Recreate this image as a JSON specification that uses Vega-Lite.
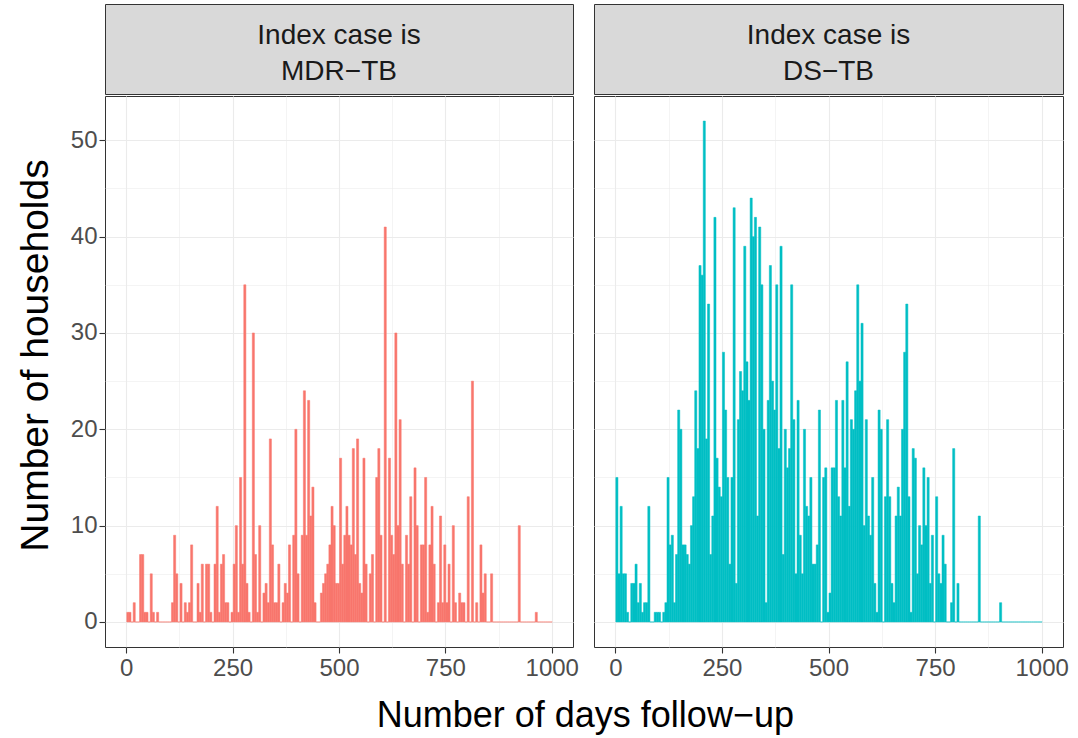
{
"$schema": "https://vega.github.io/schema/vega-lite/v6.json",
"background": "white",
"padding": {"left": 15, "top": 3, "right": 15, "bottom": 5},
"config": {"font": "Liberation Sans", "view": {"stroke": "#333333", "strokeWidth": 1}},
"title": {"text": "Number of days follow−up", "orient": "bottom", "anchor": "middle", "fontSize": 36, "fontWeight": "normal", "color": "#000000", "font": "Liberation Sans", "dx": 43, "offset": 18},
"datasets": {
"strips": [{"p": "MDR", "label": "Index case is\nMDR−TB"}, {"p": "DS", "label": "Index case is\nDS−TB"}],
"bins": [
{"p":"MDR","d":0,"n":1},{"p":"MDR","d":5,"n":1},{"p":"MDR","d":10,"n":0},{"p":"MDR","d":15,"n":2},{"p":"MDR","d":20,"n":0},{"p":"MDR","d":25,"n":0},{"p":"MDR","d":30,"n":7},{"p":"MDR","d":35,"n":7},{"p":"MDR","d":40,"n":1},{"p":"MDR","d":45,"n":1},
{"p":"MDR","d":50,"n":0},{"p":"MDR","d":55,"n":5},{"p":"MDR","d":60,"n":1},{"p":"MDR","d":65,"n":0},{"p":"MDR","d":70,"n":1},{"p":"MDR","d":75,"n":0},{"p":"MDR","d":80,"n":0},{"p":"MDR","d":85,"n":0},{"p":"MDR","d":90,"n":0},{"p":"MDR","d":95,"n":0},
{"p":"MDR","d":100,"n":0},{"p":"MDR","d":105,"n":2},{"p":"MDR","d":110,"n":9},{"p":"MDR","d":115,"n":5},{"p":"MDR","d":120,"n":0},{"p":"MDR","d":125,"n":4},{"p":"MDR","d":130,"n":0},{"p":"MDR","d":135,"n":2},{"p":"MDR","d":140,"n":1},{"p":"MDR","d":145,"n":2},
{"p":"MDR","d":150,"n":8},{"p":"MDR","d":155,"n":0},{"p":"MDR","d":160,"n":0},{"p":"MDR","d":165,"n":4},{"p":"MDR","d":170,"n":1},{"p":"MDR","d":175,"n":6},{"p":"MDR","d":180,"n":0},{"p":"MDR","d":185,"n":6},{"p":"MDR","d":190,"n":6},{"p":"MDR","d":195,"n":1},
{"p":"MDR","d":200,"n":0},{"p":"MDR","d":205,"n":6},{"p":"MDR","d":210,"n":12},{"p":"MDR","d":215,"n":1},{"p":"MDR","d":220,"n":6},{"p":"MDR","d":225,"n":7},{"p":"MDR","d":230,"n":2},{"p":"MDR","d":235,"n":2},{"p":"MDR","d":240,"n":0},{"p":"MDR","d":245,"n":1},
{"p":"MDR","d":250,"n":6},{"p":"MDR","d":255,"n":10},{"p":"MDR","d":260,"n":1},{"p":"MDR","d":265,"n":15},{"p":"MDR","d":270,"n":6},{"p":"MDR","d":275,"n":35},{"p":"MDR","d":280,"n":4},{"p":"MDR","d":285,"n":1},{"p":"MDR","d":290,"n":0},{"p":"MDR","d":295,"n":30},
{"p":"MDR","d":300,"n":7},{"p":"MDR","d":305,"n":1},{"p":"MDR","d":310,"n":10},{"p":"MDR","d":315,"n":0},{"p":"MDR","d":320,"n":3},{"p":"MDR","d":325,"n":4},{"p":"MDR","d":330,"n":2},{"p":"MDR","d":335,"n":19},{"p":"MDR","d":340,"n":8},{"p":"MDR","d":345,"n":2},
{"p":"MDR","d":350,"n":2},{"p":"MDR","d":355,"n":6},{"p":"MDR","d":360,"n":0},{"p":"MDR","d":365,"n":2},{"p":"MDR","d":370,"n":4},{"p":"MDR","d":375,"n":3},{"p":"MDR","d":380,"n":8},{"p":"MDR","d":385,"n":0},{"p":"MDR","d":390,"n":9},{"p":"MDR","d":395,"n":20},
{"p":"MDR","d":400,"n":5},{"p":"MDR","d":405,"n":0},{"p":"MDR","d":410,"n":9},{"p":"MDR","d":415,"n":24},{"p":"MDR","d":420,"n":9},{"p":"MDR","d":425,"n":23},{"p":"MDR","d":430,"n":11},{"p":"MDR","d":435,"n":14},{"p":"MDR","d":440,"n":2},{"p":"MDR","d":445,"n":0},
{"p":"MDR","d":450,"n":0},{"p":"MDR","d":455,"n":3},{"p":"MDR","d":460,"n":4},{"p":"MDR","d":465,"n":5},{"p":"MDR","d":470,"n":6},{"p":"MDR","d":475,"n":8},{"p":"MDR","d":480,"n":12},{"p":"MDR","d":485,"n":10},{"p":"MDR","d":490,"n":4},{"p":"MDR","d":495,"n":4},
{"p":"MDR","d":500,"n":17},{"p":"MDR","d":505,"n":6},{"p":"MDR","d":510,"n":9},{"p":"MDR","d":515,"n":12},{"p":"MDR","d":520,"n":9},{"p":"MDR","d":525,"n":8},{"p":"MDR","d":530,"n":18},{"p":"MDR","d":535,"n":7},{"p":"MDR","d":540,"n":19},{"p":"MDR","d":545,"n":4},
{"p":"MDR","d":550,"n":3},{"p":"MDR","d":555,"n":17},{"p":"MDR","d":560,"n":6},{"p":"MDR","d":565,"n":0},{"p":"MDR","d":570,"n":5},{"p":"MDR","d":575,"n":7},{"p":"MDR","d":580,"n":0},{"p":"MDR","d":585,"n":15},{"p":"MDR","d":590,"n":18},{"p":"MDR","d":595,"n":9},
{"p":"MDR","d":600,"n":0},{"p":"MDR","d":605,"n":41},{"p":"MDR","d":610,"n":0},{"p":"MDR","d":615,"n":17},{"p":"MDR","d":620,"n":9},{"p":"MDR","d":625,"n":7},{"p":"MDR","d":630,"n":30},{"p":"MDR","d":635,"n":10},{"p":"MDR","d":640,"n":21},{"p":"MDR","d":645,"n":6},
{"p":"MDR","d":650,"n":0},{"p":"MDR","d":655,"n":9},{"p":"MDR","d":660,"n":6},{"p":"MDR","d":665,"n":13},{"p":"MDR","d":670,"n":0},{"p":"MDR","d":675,"n":16},{"p":"MDR","d":680,"n":10},{"p":"MDR","d":685,"n":0},{"p":"MDR","d":690,"n":8},{"p":"MDR","d":695,"n":8},
{"p":"MDR","d":700,"n":15},{"p":"MDR","d":705,"n":1},{"p":"MDR","d":710,"n":8},{"p":"MDR","d":715,"n":12},{"p":"MDR","d":720,"n":6},{"p":"MDR","d":725,"n":0},{"p":"MDR","d":730,"n":2},{"p":"MDR","d":735,"n":11},{"p":"MDR","d":740,"n":2},{"p":"MDR","d":745,"n":8},
{"p":"MDR","d":750,"n":2},{"p":"MDR","d":755,"n":6},{"p":"MDR","d":760,"n":0},{"p":"MDR","d":765,"n":10},{"p":"MDR","d":770,"n":2},{"p":"MDR","d":775,"n":0},{"p":"MDR","d":780,"n":3},{"p":"MDR","d":785,"n":2},{"p":"MDR","d":790,"n":2},{"p":"MDR","d":795,"n":0},
{"p":"MDR","d":800,"n":13},{"p":"MDR","d":805,"n":0},{"p":"MDR","d":810,"n":25},{"p":"MDR","d":815,"n":0},{"p":"MDR","d":820,"n":2},{"p":"MDR","d":825,"n":0},{"p":"MDR","d":830,"n":8},{"p":"MDR","d":835,"n":3},{"p":"MDR","d":840,"n":5},{"p":"MDR","d":845,"n":0},
{"p":"MDR","d":850,"n":0},{"p":"MDR","d":855,"n":5},{"p":"MDR","d":860,"n":0},{"p":"MDR","d":865,"n":0},{"p":"MDR","d":870,"n":0},{"p":"MDR","d":875,"n":0},{"p":"MDR","d":880,"n":0},{"p":"MDR","d":885,"n":0},{"p":"MDR","d":890,"n":0},{"p":"MDR","d":895,"n":0},
{"p":"MDR","d":900,"n":0},{"p":"MDR","d":905,"n":0},{"p":"MDR","d":910,"n":0},{"p":"MDR","d":915,"n":0},{"p":"MDR","d":920,"n":10},{"p":"MDR","d":925,"n":0},{"p":"MDR","d":930,"n":0},{"p":"MDR","d":935,"n":0},{"p":"MDR","d":940,"n":0},{"p":"MDR","d":945,"n":0},
{"p":"MDR","d":950,"n":0},{"p":"MDR","d":955,"n":0},{"p":"MDR","d":960,"n":1},{"p":"MDR","d":965,"n":0},{"p":"MDR","d":970,"n":0},{"p":"MDR","d":975,"n":0},{"p":"MDR","d":980,"n":0},{"p":"MDR","d":985,"n":0},{"p":"MDR","d":990,"n":0},{"p":"MDR","d":995,"n":0},
{"p":"DS","d":0,"n":15},{"p":"DS","d":5,"n":5},{"p":"DS","d":10,"n":12},{"p":"DS","d":15,"n":5},{"p":"DS","d":20,"n":5},{"p":"DS","d":25,"n":1},{"p":"DS","d":30,"n":0},{"p":"DS","d":35,"n":4},{"p":"DS","d":40,"n":4},{"p":"DS","d":45,"n":6},
{"p":"DS","d":50,"n":2},{"p":"DS","d":55,"n":4},{"p":"DS","d":60,"n":1},{"p":"DS","d":65,"n":2},{"p":"DS","d":70,"n":2},{"p":"DS","d":75,"n":12},{"p":"DS","d":80,"n":0},{"p":"DS","d":85,"n":0},{"p":"DS","d":90,"n":1},{"p":"DS","d":95,"n":1},
{"p":"DS","d":100,"n":1},{"p":"DS","d":105,"n":0},{"p":"DS","d":110,"n":1},{"p":"DS","d":115,"n":2},{"p":"DS","d":120,"n":15},{"p":"DS","d":125,"n":8},{"p":"DS","d":130,"n":9},{"p":"DS","d":135,"n":2},{"p":"DS","d":140,"n":7},{"p":"DS","d":145,"n":22},
{"p":"DS","d":150,"n":20},{"p":"DS","d":155,"n":8},{"p":"DS","d":160,"n":8},{"p":"DS","d":165,"n":7},{"p":"DS","d":170,"n":6},{"p":"DS","d":175,"n":10},{"p":"DS","d":180,"n":13},{"p":"DS","d":185,"n":24},{"p":"DS","d":190,"n":18},{"p":"DS","d":195,"n":37},
{"p":"DS","d":200,"n":36},{"p":"DS","d":205,"n":52},{"p":"DS","d":210,"n":19},{"p":"DS","d":215,"n":33},{"p":"DS","d":220,"n":7},{"p":"DS","d":225,"n":11},{"p":"DS","d":230,"n":42},{"p":"DS","d":235,"n":17},{"p":"DS","d":240,"n":14},{"p":"DS","d":245,"n":13},
{"p":"DS","d":250,"n":28},{"p":"DS","d":255,"n":22},{"p":"DS","d":260,"n":15},{"p":"DS","d":265,"n":6},{"p":"DS","d":270,"n":15},{"p":"DS","d":275,"n":43},{"p":"DS","d":280,"n":4},{"p":"DS","d":285,"n":21},{"p":"DS","d":290,"n":26},{"p":"DS","d":295,"n":24},
{"p":"DS","d":300,"n":39},{"p":"DS","d":305,"n":27},{"p":"DS","d":310,"n":23},{"p":"DS","d":315,"n":44},{"p":"DS","d":320,"n":40},{"p":"DS","d":325,"n":42},{"p":"DS","d":330,"n":11},{"p":"DS","d":335,"n":41},{"p":"DS","d":340,"n":35},{"p":"DS","d":345,"n":20},
{"p":"DS","d":350,"n":2},{"p":"DS","d":355,"n":23},{"p":"DS","d":360,"n":37},{"p":"DS","d":365,"n":25},{"p":"DS","d":370,"n":22},{"p":"DS","d":375,"n":35},{"p":"DS","d":380,"n":18},{"p":"DS","d":385,"n":39},{"p":"DS","d":390,"n":7},{"p":"DS","d":395,"n":20},
{"p":"DS","d":400,"n":16},{"p":"DS","d":405,"n":18},{"p":"DS","d":410,"n":35},{"p":"DS","d":415,"n":21},{"p":"DS","d":420,"n":5},{"p":"DS","d":425,"n":23},{"p":"DS","d":430,"n":9},{"p":"DS","d":435,"n":5},{"p":"DS","d":440,"n":20},{"p":"DS","d":445,"n":12},
{"p":"DS","d":450,"n":11},{"p":"DS","d":455,"n":15},{"p":"DS","d":460,"n":6},{"p":"DS","d":465,"n":6},{"p":"DS","d":470,"n":8},{"p":"DS","d":475,"n":22},{"p":"DS","d":480,"n":0},{"p":"DS","d":485,"n":15},{"p":"DS","d":490,"n":16},{"p":"DS","d":495,"n":1},
{"p":"DS","d":500,"n":3},{"p":"DS","d":505,"n":16},{"p":"DS","d":510,"n":16},{"p":"DS","d":515,"n":23},{"p":"DS","d":520,"n":13},{"p":"DS","d":525,"n":11},{"p":"DS","d":530,"n":23},{"p":"DS","d":535,"n":16},{"p":"DS","d":540,"n":27},{"p":"DS","d":545,"n":12},
{"p":"DS","d":550,"n":21},{"p":"DS","d":555,"n":20},{"p":"DS","d":560,"n":24},{"p":"DS","d":565,"n":35},{"p":"DS","d":570,"n":25},{"p":"DS","d":575,"n":31},{"p":"DS","d":580,"n":10},{"p":"DS","d":585,"n":21},{"p":"DS","d":590,"n":11},{"p":"DS","d":595,"n":9},
{"p":"DS","d":600,"n":15},{"p":"DS","d":605,"n":4},{"p":"DS","d":610,"n":1},{"p":"DS","d":615,"n":22},{"p":"DS","d":620,"n":20},{"p":"DS","d":625,"n":0},{"p":"DS","d":630,"n":13},{"p":"DS","d":635,"n":21},{"p":"DS","d":640,"n":13},{"p":"DS","d":645,"n":4},
{"p":"DS","d":650,"n":2},{"p":"DS","d":655,"n":11},{"p":"DS","d":660,"n":14},{"p":"DS","d":665,"n":11},{"p":"DS","d":670,"n":20},{"p":"DS","d":675,"n":28},{"p":"DS","d":680,"n":33},{"p":"DS","d":685,"n":13},{"p":"DS","d":690,"n":1},{"p":"DS","d":695,"n":18},
{"p":"DS","d":700,"n":17},{"p":"DS","d":705,"n":5},{"p":"DS","d":710,"n":10},{"p":"DS","d":715,"n":8},{"p":"DS","d":720,"n":16},{"p":"DS","d":725,"n":10},{"p":"DS","d":730,"n":15},{"p":"DS","d":735,"n":4},{"p":"DS","d":740,"n":9},{"p":"DS","d":745,"n":0},
{"p":"DS","d":750,"n":13},{"p":"DS","d":755,"n":5},{"p":"DS","d":760,"n":4},{"p":"DS","d":765,"n":9},{"p":"DS","d":770,"n":6},{"p":"DS","d":775,"n":0},{"p":"DS","d":780,"n":0},{"p":"DS","d":785,"n":2},{"p":"DS","d":790,"n":18},{"p":"DS","d":795,"n":0},
{"p":"DS","d":800,"n":4},{"p":"DS","d":805,"n":0},{"p":"DS","d":810,"n":0},{"p":"DS","d":815,"n":0},{"p":"DS","d":820,"n":0},{"p":"DS","d":825,"n":0},{"p":"DS","d":830,"n":0},{"p":"DS","d":835,"n":0},{"p":"DS","d":840,"n":0},{"p":"DS","d":845,"n":0},
{"p":"DS","d":850,"n":11},{"p":"DS","d":855,"n":0},{"p":"DS","d":860,"n":0},{"p":"DS","d":865,"n":0},{"p":"DS","d":870,"n":0},{"p":"DS","d":875,"n":0},{"p":"DS","d":880,"n":0},{"p":"DS","d":885,"n":0},{"p":"DS","d":890,"n":0},{"p":"DS","d":895,"n":0},
{"p":"DS","d":900,"n":2},{"p":"DS","d":905,"n":0},{"p":"DS","d":910,"n":0},{"p":"DS","d":915,"n":0},{"p":"DS","d":920,"n":0},{"p":"DS","d":925,"n":0},{"p":"DS","d":930,"n":0},{"p":"DS","d":935,"n":0},{"p":"DS","d":940,"n":0},{"p":"DS","d":945,"n":0},
{"p":"DS","d":950,"n":0},{"p":"DS","d":955,"n":0},{"p":"DS","d":960,"n":0},{"p":"DS","d":965,"n":0},{"p":"DS","d":970,"n":0},{"p":"DS","d":975,"n":0},{"p":"DS","d":980,"n":0},{"p":"DS","d":985,"n":0},{"p":"DS","d":990,"n":0},{"p":"DS","d":995,"n":0}
]
},
"hconcat": [
{
"spacing": 0,
"vconcat": [
{
"width": 468, "height": 90,
"data": {"name": "strips"},
"transform": [{"filter": "datum.p === 'MDR'"}],
"view": {"fill": "#D9D9D9", "stroke": "#333333", "strokeWidth": 1},
"mark": {"type": "text", "fontSize": 28, "color": "#1A1A1A", "lineBreak": "\n", "lineHeight": 36, "baseline": "middle", "align": "center", "dy": -13, "font": "Liberation Sans"},
"encoding": {"text": {"field": "label", "type": "nominal"}}
},
{
"width": 468, "height": 551,
"data": {"name": "bins"},
"transform": [{"filter": "datum.p === 'MDR'"}],
"mark": {"type": "bar", "color": "#F8766D", "stroke": "#F8766D", "strokeWidth": 0.5, "binSpacing": 0},
"encoding": {
"x": {"field": "d", "type": "quantitative", "bin": {"binned": true, "step": 5},
 "scale": {"domain": [-50, 1050], "nice": false, "zero": false},
 "axis": {"values": [0,125,250,375,500,625,750,875,1000], "format": "d", "labelExpr": "datum.value % 250 === 0 ? datum.label : ''", "title": null, "grid": true, "gridColor": "#EBEBEB", "gridWidth": {"condition": {"test": "datum.value % 250 === 0", "value": 1.1}, "value": 0.55}, "tickOpacity": {"condition": {"test": "datum.value % 250 === 0", "value": 1}, "value": 0}, "tickColor": "#333333", "tickSize": 6, "tickWidth": 1.1, "domain": false, "labelFontSize": 24, "labelColor": "#4D4D4D", "labelPadding": 3, "labelFlush": false, "labelOverlap": false}},
"y": {"field": "n", "type": "quantitative",
 "scale": {"domain": [-2.6, 54.6], "nice": false, "zero": false},
 "axis": {"values": [0,5,10,15,20,25,30,35,40,45,50], "labelExpr": "datum.value % 10 === 0 ? datum.label : ''", "title": "Number of households", "titleFontSize": 39, "titleFontWeight": "normal", "titleColor": "#000000", "titlePadding": 15, "titleY": 259, "grid": true, "gridColor": "#EBEBEB", "gridWidth": {"condition": {"test": "datum.value % 10 === 0", "value": 1.1}, "value": 0.55}, "tickOpacity": {"condition": {"test": "datum.value % 10 === 0", "value": 1}, "value": 0}, "tickColor": "#333333", "tickSize": 6, "tickWidth": 1.1, "domain": false, "labelFontSize": 24, "labelColor": "#4D4D4D", "labelPadding": 2, "labelOverlap": false}},
"y2": {"datum": 0}
}
}
]
},
{
"spacing": 0,
"vconcat": [
{
"width": 469, "height": 90,
"data": {"name": "strips"},
"transform": [{"filter": "datum.p === 'DS'"}],
"view": {"fill": "#D9D9D9", "stroke": "#333333", "strokeWidth": 1},
"mark": {"type": "text", "fontSize": 28, "color": "#1A1A1A", "lineBreak": "\n", "lineHeight": 36, "baseline": "middle", "align": "center", "dy": -13, "font": "Liberation Sans"},
"encoding": {"text": {"field": "label", "type": "nominal"}}
},
{
"width": 469, "height": 551,
"data": {"name": "bins"},
"transform": [{"filter": "datum.p === 'DS'"}],
"mark": {"type": "bar", "color": "#00BFC4", "stroke": "#00BFC4", "strokeWidth": 0.5, "binSpacing": 0},
"encoding": {
"x": {"field": "d", "type": "quantitative", "bin": {"binned": true, "step": 5},
 "scale": {"domain": [-50, 1050], "nice": false, "zero": false},
 "axis": {"values": [0,125,250,375,500,625,750,875,1000], "format": "d", "labelExpr": "datum.value % 250 === 0 ? datum.label : ''", "title": null, "grid": true, "gridColor": "#EBEBEB", "gridWidth": {"condition": {"test": "datum.value % 250 === 0", "value": 1.1}, "value": 0.55}, "tickOpacity": {"condition": {"test": "datum.value % 250 === 0", "value": 1}, "value": 0}, "tickColor": "#333333", "tickSize": 6, "tickWidth": 1.1, "domain": false, "labelFontSize": 24, "labelColor": "#4D4D4D", "labelPadding": 3, "labelFlush": false, "labelOverlap": false}},
"y": {"field": "n", "type": "quantitative",
 "scale": {"domain": [-2.6, 54.6], "nice": false, "zero": false},
 "axis": {"values": [0,5,10,15,20,25,30,35,40,45,50], "title": null, "labels": false, "ticks": false, "domain": false, "grid": true, "gridColor": "#EBEBEB", "gridWidth": {"condition": {"test": "datum.value % 10 === 0", "value": 1.1}, "value": 0.55}}},
"y2": {"datum": 0}
}
}
]
}
],
"spacing": 14
}
